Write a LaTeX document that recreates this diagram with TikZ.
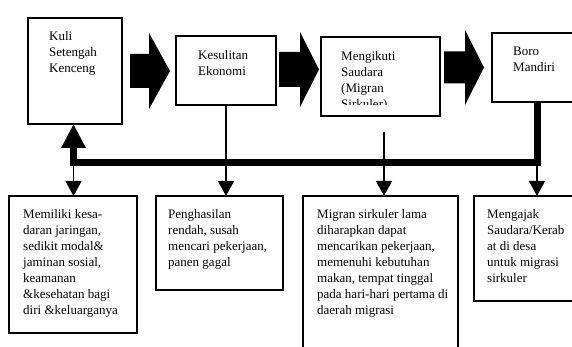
\documentclass[tikz,border=0pt]{standalone}
\usepackage{fontspec}
\setmainfont{Liberation Serif}
\usetikzlibrary{arrows.meta}

% fat arrow between two upper boxes: start, head start, tip, centre, half shaft, half head
\newcommand{\blockarrow}[6]{%
  \fill (#1,#4-#5) -- (#2,#4-#5) -- (#2,#4-#6) -- (#3,#4) -- (#2,#4+#6)
    -- (#2,#4+#5) -- (#1,#4+#5) -- cycle;}

\tikzset{
  box/.style={draw, line width=1.6pt, anchor=north west, inner sep=0pt, outer sep=0pt},
  txt/.style={anchor=north west, inner sep=0pt, align=left,
    font=\fontsize{13}{16}\selectfont},
  link/.style={line width=1.3pt, -{Triangle[length=15pt,width=16pt]}},
  bus/.style={line width=7pt},
}

\begin{document}
\begin{tikzpicture}[x=1pt, y=-1pt]
  \useasboundingbox (0,0) rectangle (572,347);
  \clip (0,0) rectangle (572,347);

  %upper row
  \node[box, minimum width=94pt, minimum height=106pt] (b1) at (28,18) {};
  \node[box, minimum width=100pt, minimum height=69pt] (b2) at (176,36) {};
  \node[box, minimum width=119pt, minimum height=79pt] (b3) at (321,37) {};
  \node[box, minimum width=100pt, minimum height=69pt] (b4) at (492,33) {};

  \node[txt] (t1) at (49,31) {Kuli\\Setengah\\Kenceng};
  \node[txt] (t2) at (198,50) {Kesulitan\\Ekonomi};
  \begin{scope}
    \clip (321,37) rectangle (440,105);
    \node[txt] (t3) at (341,51) {Mengikuti\\Saudara\\(Migran\\Sirkuler)};
  \end{scope}
  \node[txt] (t4) at (513,47) {Boro\\Mandiri};

  %fat arrows
  \blockarrow{130}{149}{170}{71}{17}{38}
  \blockarrow{279}{300}{319}{69.5}{17.5}{37.5}
  \blockarrow{444}{465}{484}{67.5}{16}{37.5}

  %lower row
  \node[box, minimum width=128pt, minimum height=137pt] (b5) at (9,196) {};
  \node[box, minimum width=127pt, minimum height=94pt] (b6) at (156,196) {};
  \node[box, minimum width=155pt, minimum height=170pt] (b7) at (303,196) {};
  \node[box, minimum width=110pt, minimum height=105pt] (b8) at (474,196) {};

  \node[txt] (t5) at (23,209) {Memiliki kesa-\\daran jaringan,\\sedikit modal\&\\jaminan sosial,\\keamanan\\\&kesehatan bagi\\diri \&keluarganya};
  \node[txt] (t6) at (168,209) {Penghasilan\\rendah, susah\\mencari pekerjaan,\\panen gagal};
  \node[txt] (t7) at (317,209) {Migran sirkuler lama\\diharapkan dapat\\mencarikan pekerjaan,\\memenuhi kebutuhan\\makan, tempat tinggal\\pada hari-hari pertama di\\daerah migrasi};
  \node[txt] (t8) at (487,209) {Mengajak\\Saudara/Kerab\\at di desa\\untuk migrasi\\sirkuler};

  %connectors
  \coordinate (barL) at (70,162.5);
  \coordinate (barR) at (541,162.5);
  \coordinate (k1) at (73.5,162.5);
  \coordinate (k4) at (537,162.5);
  \coordinate (s3) at (384,132);

  \draw[bus] (barL) -- (barR);
  \draw[bus, -{Triangle[length=24pt,width=23pt]}] (k1) -- (k1 |- b1.south);
  \draw[link] (k1) -- (k1 |- b5.north);
  \draw[link] (b2.south) -- (b2.south |- b6.north);
  \draw[link] (s3) -- (s3 |- b7.north);
  \draw[bus] (k4 |- b4.south) -- (k4);
  \draw[link] (k4) -- (k4 |- b8.north);
\end{tikzpicture}
\end{document}
